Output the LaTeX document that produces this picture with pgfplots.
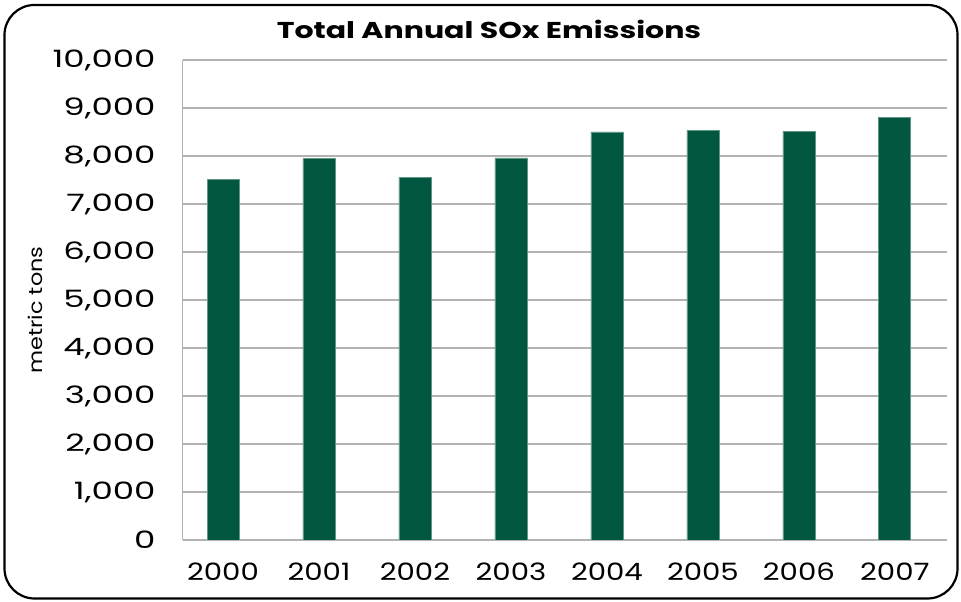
\documentclass[border=0pt]{standalone}
\usepackage{fontspec}
\setmainfont{Poppins}
\usepackage{graphicx}
\usepackage{pgfplots}
\pgfplotsset{compat=1.18}
\definecolor{barGreen}{RGB}{1,87,63}
\definecolor{barEdge}{RGB}{96,150,132}
\definecolor{gridGrey}{RGB}{178,178,178}
\newcommand{\wide}[2]{\scalebox{#1}[1]{#2}}
\begin{document}
\begin{tikzpicture}[x=1bp,y=1bp]
\useasboundingbox (0,0) rectangle (961,602);
% rounded frame around the whole chart
\draw[line width=2.2bp, rounded corners=30bp] (4.5,3.5) rectangle (957.5,597);
\node[font=\fontsize{23}{27}\selectfont\bfseries] at (489,573) {\wide{1.31}{Total Annual SOx Emissions}};
\begin{axis}[
  at={(182.7bp,62bp)}, anchor=south west,
  scale only axis, width=764bp, height=480bp,
  ymin=0, ymax=10000, ytick distance=1000,
  xmin=-0.42, xmax=7.54,
  xtick={0,...,7},
  xticklabels={\wide{1.22}{2000},\wide{1.22}{2001},\wide{1.22}{2002},\wide{1.22}{2003},
               \wide{1.22}{2004},\wide{1.22}{2005},\wide{1.22}{2006},\wide{1.22}{2007}},
  scaled y ticks=false,
  /pgf/number format/assume math mode=true,
  /pgf/number format/1000 sep={,},
  yticklabel={\wide{1.42}{\pgfmathprintnumber{\tick}}},
  axis x line=bottom, axis y line=left,
  axis line style={-, draw=gridGrey, line width=1.3bp},
  ymajorgrids, grid style={draw=gridGrey, line width=1.3bp},
  major tick length=0pt,
  yticklabel style={font=\fontsize{24}{28}\selectfont, inner sep=0pt, anchor=east, xshift=-27bp},
  xticklabel style={font=\fontsize{24}{28}\selectfont, inner sep=0pt, anchor=north, yshift=-23bp},
  ylabel={\wide{1.18}{metric tons}},
  ylabel style={font=\fontsize{19}{23}\selectfont, at={(axis description cs:-0.193,0.479)}, anchor=center},
]
\addplot[ybar, bar width=32bp, bar shift=0pt, fill=barGreen, draw=barEdge, line width=0.8bp]
  coordinates {(0,7515) (1,7940) (2,7555) (3,7960) (4,8500) (5,8535) (6,8520) (7,8805)};
\end{axis}
\end{tikzpicture}
\end{document}
